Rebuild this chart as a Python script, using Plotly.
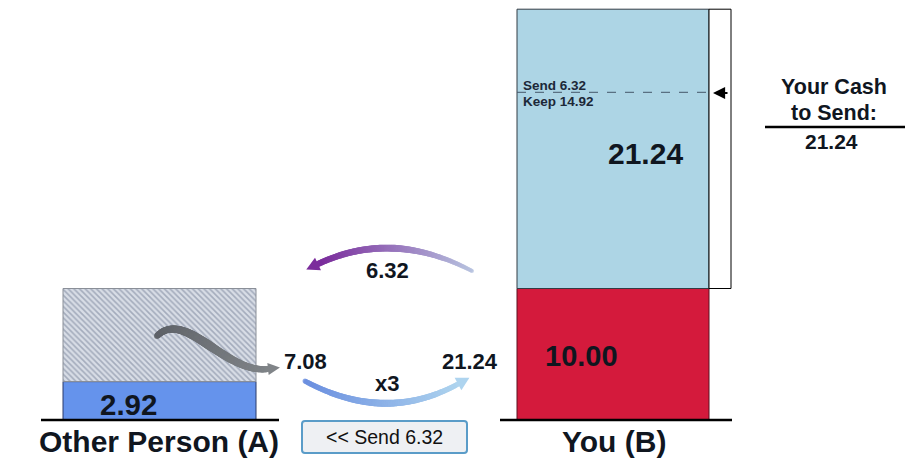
import numpy as np
import plotly.graph_objects as go

# ---------------- data ----------------
players = ["Other Person (A)", "You (B)"]
endowment = 10.00          # each player's starting cash
a_kept = 2.92              # A keeps
a_sent = 7.08              # A sends
multiplier = 3             # sent amount is tripled
b_received = 21.24         # B receives (7.08 x 3)
b_return = 6.32            # B sends back
b_keep = 14.92             # B keeps of received

# ---------------- geometry helpers (pixel layout) ----------------
W, H = 905, 466
BASE_PX = 420
PX_PER_UNIT = 13.15
FONT = "Arial, Liberation Sans, sans-serif"
TXT = "#10161f"


def vy(p):
    return (BASE_PX - p) / PX_PER_UNIT


xA, wA = 159.5, 193
xB, wB = 613, 192

fig = go.Figure()

# Bars
fig.add_trace(go.Bar(x=[xA], y=[a_kept], base=[0], width=[wA],
                     marker=dict(color="#6593EC", line=dict(color="#2b3b6b", width=1))))
fig.add_trace(go.Bar(x=[xA], y=[a_sent], base=[a_kept], width=[wA],
                     marker=dict(color="#d8dde6",
                                 pattern=dict(shape="\\", fgcolor="#6f7b92", bgcolor="#d8dde6",
                                              size=4, solidity=0.4),
                                 line=dict(color="#8a8f98", width=1))))
fig.add_trace(go.Bar(x=[xB], y=[endowment], base=[0], width=[wB],
                     marker=dict(color="#D41A3C", line=dict(color="#5a1020", width=1))))
fig.add_trace(go.Bar(x=[xB], y=[b_received], base=[endowment], width=[wB],
                     marker=dict(color="#ADD5E5", line=dict(color="#333c44", width=1))))

shapes = []
# baselines
shapes.append(dict(type="line", x0=41, x1=279, y0=0, y1=0, line=dict(color="black", width=2.5)))
shapes.append(dict(type="line", x0=500, x1=732, y0=0, y1=0, line=dict(color="black", width=2.5)))
# white slider box next to B's received bar
shapes.append(dict(type="rect", x0=xB + wB / 2, x1=731, y0=endowment, y1=endowment + b_received,
                   line=dict(color="black", width=1), fillcolor="white"))
# dashed split line
shapes.append(dict(type="line", x0=xB - wB / 2, x1=xB + wB / 2,
                   y0=endowment + b_keep, y1=endowment + b_keep,
                   line=dict(color="#44576a", width=1, dash="dash")))
# divider under "Your Cash to Send"
shapes.append(dict(type="line", x0=765, x1=905, y0=vy(127), y1=vy(127),
                   line=dict(color="black", width=2.5)))


# button (rounded rect)
def rounded_rect(x0, p0, x1, p1, r):
    return (f"M {x0+r},{vy(p0)} L {x1-r},{vy(p0)} Q {x1},{vy(p0)} {x1},{vy(p0+r)} "
            f"L {x1},{vy(p1-r)} Q {x1},{vy(p1)} {x1-r},{vy(p1)} L {x0+r},{vy(p1)} "
            f"Q {x0},{vy(p1)} {x0},{vy(p1-r)} L {x0},{vy(p0+r)} Q {x0},{vy(p0)} {x0+r},{vy(p0)} Z")


shapes.append(dict(type="path", path=rounded_rect(302, 421, 467, 453, 3),
                   fillcolor="#eef0f3", line=dict(color="#5a9cc8", width=2)))


# ---------------- curved gradient arrows ----------------
def bez(pts, n=220):
    pts = np.array(pts, float)
    t = np.linspace(0, 1, n)[:, None]
    if len(pts) == 3:
        return (1 - t) ** 2 * pts[0] + 2 * (1 - t) * t * pts[1] + t ** 2 * pts[2]
    return ((1 - t) ** 3 * pts[0] + 3 * (1 - t) ** 2 * t * pts[1]
            + 3 * (1 - t) * t ** 2 * pts[2] + t ** 3 * pts[3])


def hex2rgb(h):
    h = h.lstrip("#")
    return np.array([int(h[i:i + 2], 16) for i in (0, 2, 4)], float)


def grad(c0, c1, n):
    a, b = hex2rgb(c0), hex2rgb(c1)
    return [f"rgb({int(r)},{int(g)},{int(bb)})" for r, g, bb in
            (a + (b - a) * t for t in np.linspace(0, 1, n))]


def curve_arrow(pts, c0, c1, s0, smid, s1, head_color, head_len=13, head_w=7):
    p = bez(pts)
    n = len(p)
    t = np.linspace(0, 1, n)
    sizes = np.where(t < 0.5, s0 + (smid - s0) * (t / 0.5), smid + (s1 - smid) * ((t - 0.5) / 0.5))
    fig.add_trace(go.Scatter(x=p[:, 0], y=[vy(v) for v in p[:, 1]], mode="markers",
                             marker=dict(size=sizes, color=grad(c0, c1, n), line=dict(width=0)),
                             hoverinfo="skip"))
    end = np.array(pts[-1], float)
    d = end - np.array(pts[-2], float)
    d /= np.linalg.norm(d)
    nrm = np.array([-d[1], d[0]])
    tip = end + d * head_len
    b1 = end + nrm * head_w
    b2 = end - nrm * head_w
    path = (f"M {tip[0]},{vy(tip[1])} L {b1[0]},{vy(b1[1])} "
            f"L {b2[0]},{vy(b2[1])} Z")
    shapes.append(dict(type="path", path=path, fillcolor=head_color, line=dict(width=0)))


# B -> A return arc (purple)
curve_arrow([(472, 271), (392, 229), (318, 264)], "#b8c4e0", "#7b2c9c", 4, 7, 6, "#7b2c9c")
# tripling arc (blue)
curve_arrow([(305, 381), (385, 424), (458, 384)], "#6b8fe0", "#aed4ef", 5, 7, 5, "#aed4ef")
# wave from A's hatched area
curve_arrow([(157, 336), (185, 308), (225, 374), (268, 369)], "#5e6268", "#808488", 6, 9, 6,
            "#808488", head_len=12, head_w=6)

# ---------------- annotations ----------------
ann = []


def txt(x, p, s, size, bold=True, anchor="center", color=TXT):
    ann.append(dict(x=x, y=vy(p), xref="x", yref="y", text=f"<b>{s}</b>" if bold else s,
                    showarrow=False, xanchor=anchor, yanchor="middle",
                    font=dict(family=FONT, size=size, color=color)))


txt(159, 441, players[0], 30)
txt(614, 441, players[1], 30)
txt(128, 404, f"{a_kept:.2f}", 29.5)
txt(581, 356, f"{endowment:.2f}", 29)
txt(645, 153, f"{b_received:.2f}", 30)
txt(521, 85, f"Send {b_return:.2f}", 13.5, anchor="left", color="#1c2838")
txt(521, 101, f"Keep {b_keep:.2f}", 13.5, anchor="left", color="#1c2838")
txt(305, 361, f"{a_sent:.2f}", 22)
txt(470, 361, f"{b_received:.2f}", 22)
txt(387, 383, f"x{multiplier}", 22)
txt(387, 270, f"{b_return:.2f}", 22)
txt(834, 87, "Your Cash", 21.5)
txt(834, 113, "to Send:", 21.5)
txt(831, 141, f"{b_received:.2f}", 21)
txt(384.5, 437, f"&lt;&lt; Send {b_return:.2f}", 19.5, bold=False, color="#111111")

# small left arrow at the split point
ann.append(dict(x=713, y=vy(93), xref="x", yref="y", ax=729, ay=vy(93), axref="x", ayref="y",
                text="", showarrow=True, arrowhead=2, arrowsize=1.1, arrowwidth=2.2,
                arrowcolor="black", standoff=0, startstandoff=0))

fig.update_layout(
    width=W, height=H, margin=dict(l=0, r=0, t=0, b=0),
    paper_bgcolor="white", plot_bgcolor="white",
    showlegend=False, barmode="overlay",
    xaxis=dict(range=[0, W], visible=False, fixedrange=True),
    yaxis=dict(range=[vy(H), vy(0)], visible=False, fixedrange=True),
    shapes=shapes, annotations=ann,
)

fig.write_html("out.html", config={"displayModeBar": False},
               post_script="document.body.style.margin='0';")
